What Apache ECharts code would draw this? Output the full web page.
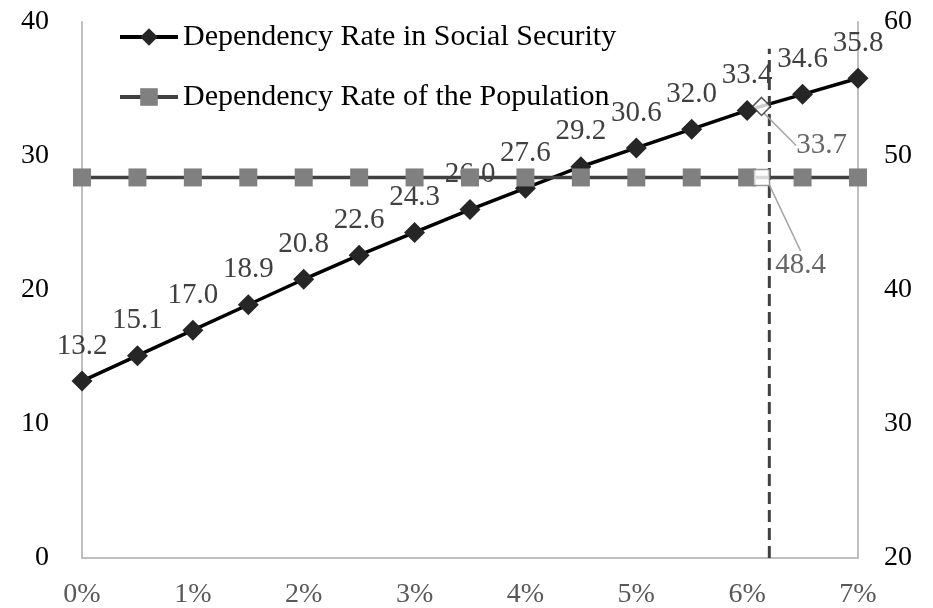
<!DOCTYPE html>
<html>
<head>
<meta charset="utf-8">
<script src="https://cdn.jsdelivr.net/npm/echarts@6/dist/echarts.min.js"></script>
<style>
  html, body { margin: 0; padding: 0; background: #fff; }
  #chart { width: 933px; height: 608px; }
</style>
</head>
<body>
<div id="chart"></div>
<script>
// Growth rate steps (percent) on the horizontal axis
const growthRates = [0, 0.5, 1, 1.5, 2, 2.5, 3, 3.5, 4, 4.5, 5, 5.5, 6, 6.5, 7];
// Dependency rate in social security (left axis)
const socialSecurityRate = [13.2, 15.1, 17.0, 18.9, 20.8, 22.6, 24.3, 26.0, 27.6, 29.2, 30.6, 32.0, 33.4, 34.6, 35.8];
// Dependency rate of the population (right axis), constant
const populationRate = [48.4, 48.4, 48.4, 48.4, 48.4, 48.4, 48.4, 48.4, 48.4, 48.4, 48.4, 48.4, 48.4, 48.4, 48.4];
// Crossing point annotations
const crossRate = [6.13];
const crossSocial = [33.7];
const crossPopulation = [48.4];
// Vertical reference line at the crossing rate
const refLineX = [6.2, 6.2];
const refLineY = [0, 38];

const leftTicks = { min: 0, max: 40, interval: 10 };
const rightTicks = { min: 20, max: 60, interval: 10 };
const xTicks = { min: 0, max: 7, interval: 1 };

const FONT = '"Liberation Serif", "Times New Roman", serif';

const chart = echarts.init(document.getElementById('chart'), null, { renderer: 'canvas' });

const zip = (xs, ys) => xs.map((x, i) => [x, ys[i]]);

chart.setOption({
  animation: false,
  backgroundColor: '#ffffff',
  grid: { left: 82, right: 75, top: 22, bottom: 50, containLabel: false, outerBoundsMode: 'none' },
  legend: {
    data: ['Dependency Rate in Social Security', 'Dependency Rate of the Population'],
    orient: 'vertical',
    left: 118,
    top: 22,
    padding: 0,
    itemWidth: 58,
    itemHeight: 22,
    itemGap: 30,
    lineStyle: { width: 4 },
    textStyle: { fontFamily: FONT, fontSize: 30, color: '#000' }
  },
  xAxis: {
    type: 'value',
    min: xTicks.min, max: xTicks.max, interval: xTicks.interval,
    axisLine: { show: true, lineStyle: { color: '#bfbfbf', width: 2 } },
    axisTick: { show: false },
    splitLine: { show: false },
    axisLabel: {
      formatter: v => v + '%',
      fontFamily: FONT, fontSize: 28, color: '#595959', margin: 23
    }
  },
  yAxis: [
    {
      type: 'value',
      min: leftTicks.min, max: leftTicks.max, interval: leftTicks.interval,
      axisLine: { show: true, lineStyle: { color: '#bfbfbf', width: 2 } },
      axisTick: { show: false },
      splitLine: { show: false },
      axisLabel: { fontFamily: FONT, fontSize: 28, color: '#000', margin: 33 }
    },
    {
      type: 'value',
      min: rightTicks.min, max: rightTicks.max, interval: rightTicks.interval,
      axisLine: { show: true, lineStyle: { color: '#bfbfbf', width: 2 } },
      axisTick: { show: false },
      splitLine: { show: false },
      axisLabel: { fontFamily: FONT, fontSize: 28, color: '#000', margin: 26 }
    }
  ],
  series: [
    {
      name: 'Dependency Rate in Social Security',
      type: 'line',
      yAxisIndex: 0,
      data: zip(growthRates, socialSecurityRate),
      symbol: 'diamond',
      symbolSize: 21,
      lineStyle: { color: '#000', width: 3.5 },
      itemStyle: { color: '#262626' },
      label: {
        show: true, position: 'top', distance: 10,
        formatter: p => p.value[1].toFixed(1),
        fontFamily: FONT, fontSize: 29, color: '#404040'
      },
      z: 3
    },
    {
      name: 'Dependency Rate of the Population',
      type: 'line',
      yAxisIndex: 1,
      data: zip(growthRates, populationRate),
      symbol: 'rect',
      symbolSize: 18,
      lineStyle: { color: '#404040', width: 3.5 },
      itemStyle: { color: '#808080' },
      z: 4
    },
    {
      name: 'reference',
      type: 'line',
      yAxisIndex: 0,
      data: zip(refLineX, refLineY),
      symbol: 'none',
      lineStyle: { color: '#404040', width: 3, type: [12, 6] },
      z: 5
    },
    {
      name: 'cross-social',
      type: 'scatter',
      yAxisIndex: 0,
      data: zip(crossRate, crossSocial),
      symbol: 'diamond',
      symbolSize: 18,
      itemStyle: { color: '#fff', borderColor: '#262626', borderWidth: 1.5 },
      label: {
        show: true, position: 'inside',
        formatter: p => p.value[1].toFixed(1),
        fontFamily: FONT, fontSize: 29, color: '#404040'
      },
      labelLayout: { dx: 60, dy: 39 },
      labelLine: { show: true, lineStyle: { color: '#a6a6a6', width: 1.5 } },
      z: 6
    },
    {
      name: 'cross-population',
      type: 'scatter',
      yAxisIndex: 1,
      data: zip(crossRate, crossPopulation),
      symbol: 'rect',
      symbolSize: 16,
      itemStyle: { color: '#fff', borderColor: '#808080', borderWidth: 1.5 },
      label: {
        show: true, position: 'inside',
        formatter: p => p.value[1].toFixed(1),
        fontFamily: FONT, fontSize: 29, color: '#404040'
      },
      labelLayout: { dx: 39, dy: 88 },
      labelLine: { show: true, lineStyle: { color: '#a6a6a6', width: 1.5 } },
      z: 6
    }
  ]
});
</script>
</body>
</html>
